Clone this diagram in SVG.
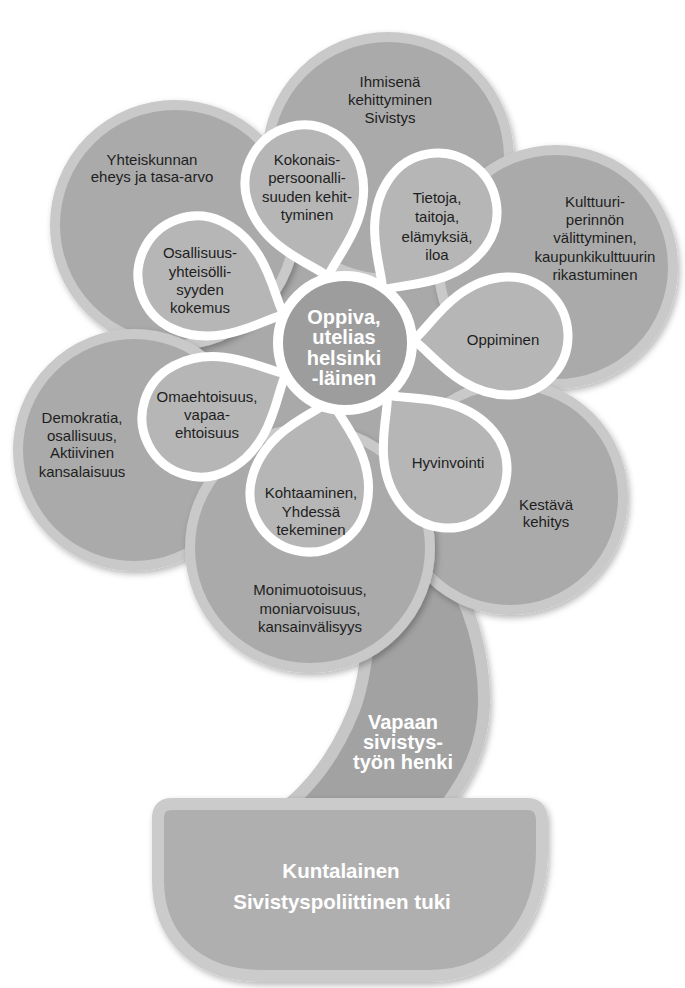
<svg xmlns="http://www.w3.org/2000/svg" width="685" height="988" viewBox="0 0 685 988">
  <defs>
    <filter id="sh" x="-20%" y="-20%" width="140%" height="140%">
      <feDropShadow dx="2" dy="3" stdDeviation="3" flood-color="#000" flood-opacity="0.28"/>
    </filter>
    <path id="petal" d="M0,96 C-10,80 -59,52 -59,0 A59,59 0 1 1 59,0 C59,52 10,80 0,96 Z"/>
  </defs>
  <style>
    .oc { fill:#aaaaaa; stroke:#c9c9c9; stroke-width:10; filter:url(#sh); }
    .p { fill:#b6b6b6; stroke:#ffffff; stroke-width:9; stroke-linejoin:round; }
    .t { font-family:"Liberation Sans", Arial, sans-serif; font-size:15px; fill:#1e1e1e; text-anchor:middle; }
    .w { font-family:"Liberation Sans", Arial, sans-serif; font-weight:bold; font-size:20px; fill:#ffffff; text-anchor:middle; }
  </style>
  <rect width="685" height="988" fill="#ffffff"/>

  <g id="stem">
    <path d="M400,560 L440,560 C470,600 485,655 484,705 C483,745 468,775 446,805 L288,805 C318,780 340,745 354,710 C362,690 368,660 372,600 Z" fill="#a2a2a2" stroke="#c6c6c6" stroke-width="12" filter="url(#sh)"/>
    <text class="w" x="403" y="729">Vapaan</text>
    <text class="w" x="403" y="749">sivistys-</text>
    <text class="w" x="403" y="769">työn henki</text>
  </g>

  <g id="pot">
    <path d="M158,818 Q158,804 172,804 L528,804 Q542,804 542,822 L542,850 C542,920 500,976 430,976 L262,976 C195,976 158,935 158,880 Z" fill="#afafaf" stroke="#cbcbcb" stroke-width="12" filter="url(#sh)"/>
    <text class="w" x="341" y="878" style="font-size:20.5px">Kuntalainen</text>
    <text class="w" x="342" y="909" style="font-size:20.5px">Sivistyspoliittinen tuki</text>
  </g>

  <g id="flower-base">
    <circle cx="345" cy="343" r="150" fill="#a9a9a9"/>
  </g>

  <g id="yhteiskunnan">
    <circle class="oc" cx="175" cy="225" r="120"/>
    <text class="t" x="152" y="165">Yhteiskunnan</text>
    <text class="t" x="152" y="182">eheys ja tasa-arvo</text>
  </g>
  <g id="ihmisena">
    <circle class="oc" cx="388" cy="158" r="121"/>
    <text class="t" x="390" y="87">Ihmisenä</text>
    <text class="t" x="390" y="105">kehittyminen</text>
    <text class="t" x="390" y="123">Sivistys</text>
  </g>
  <g id="kulttuuri">
    <circle class="oc" cx="556" cy="267" r="117"/>
    <text class="t" x="595" y="207">Kulttuuri-</text>
    <text class="t" x="595" y="225">perinnön</text>
    <text class="t" x="595" y="243">välittyminen,</text>
    <text class="t" x="595" y="262">kaupunkikulttuurin</text>
    <text class="t" x="595" y="280">rikastuminen</text>
  </g>
  <g id="demokratia">
    <circle class="oc" cx="134" cy="450" r="116"/>
    <text class="t" x="82" y="423">Demokratia,</text>
    <text class="t" x="82" y="441">osallisuus,</text>
    <text class="t" x="82" y="458">Aktiivinen</text>
    <text class="t" x="82" y="477">kansalaisuus</text>
  </g>
  <g id="kestava">
    <circle class="oc" cx="510" cy="497" r="113"/>
    <text class="t" x="546" y="510">Kestävä</text>
    <text class="t" x="546" y="527">kehitys</text>
  </g>
  <g id="monimuotoisuus">
    <circle class="oc" cx="310" cy="548" r="120"/>
    <text class="t" x="310" y="595">Monimuotoisuus,</text>
    <text class="t" x="310" y="614">moniarvoisuus,</text>
    <text class="t" x="310" y="632">kansainvälisyys</text>
  </g>

  <g id="kokonais">
    <use href="#petal" class="p" transform="translate(304,184) rotate(-14.46)"/>
    <text class="t" x="307" y="165">Kokonais-</text>
    <text class="t" x="307" y="183">persoonalli-</text>
    <text class="t" x="307" y="202">suuden kehit-</text>
    <text class="t" x="307" y="220">tyminen</text>
  </g>
  <g id="tietoja">
    <use href="#petal" class="p" transform="translate(438,212) rotate(35.37)"/>
    <text class="t" x="437" y="203">Tietoja,</text>
    <text class="t" x="437" y="222">taitoja,</text>
    <text class="t" x="437" y="242">elämyksiä,</text>
    <text class="t" x="437" y="260">iloa</text>
  </g>
  <g id="oppiminen">
    <use href="#petal" class="p" transform="translate(509,336) rotate(87.56)"/>
    <text class="t" x="503" y="345">Oppiminen</text>
  </g>
  <g id="hyvinvointi">
    <use href="#petal" class="p" transform="translate(448,469) rotate(140.73)"/>
    <text class="t" x="448" y="468">Hyvinvointi</text>
  </g>
  <g id="kohtaaminen">
    <use href="#petal" class="p" transform="translate(309,493) rotate(-166.5)"/>
    <text class="t" x="311" y="498">Kohtaaminen,</text>
    <text class="t" x="311" y="517">Yhdessä</text>
    <text class="t" x="311" y="535">tekeminen</text>
  </g>
  <g id="omaehtoisuus">
    <use href="#petal" class="p" transform="translate(201,418) rotate(-117.5)"/>
    <text class="t" x="207" y="402">Omaehtoisuus,</text>
    <text class="t" x="207" y="420">vapaa-</text>
    <text class="t" x="207" y="438">ehtoisuus</text>
  </g>
  <g id="osallisuus">
    <use href="#petal" class="p" transform="translate(197,275) rotate(-65.32)"/>
    <text class="t" x="200" y="258">Osallisuus-</text>
    <text class="t" x="200" y="277">yhteisölli-</text>
    <text class="t" x="200" y="295">syyden</text>
    <text class="t" x="200" y="313">kokemus</text>
  </g>

  <g id="center">
    <circle cx="345" cy="343" r="67" fill="#9d9d9d" stroke="#ffffff" stroke-width="10"/>
    <text class="w" x="344" y="324">Oppiva,</text>
    <text class="w" x="344" y="344">utelias</text>
    <text class="w" x="344" y="365">helsinki</text>
    <text class="w" x="344" y="385">-läinen</text>
  </g>

  <g id="connectors"/>
</svg>
